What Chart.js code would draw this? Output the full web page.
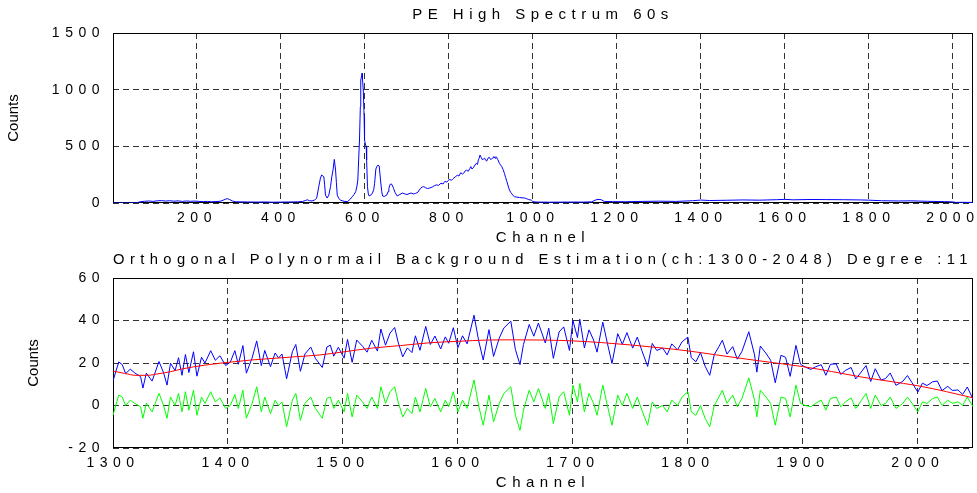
<!DOCTYPE html>
<html>
<head>
<meta charset="utf-8">
<title>PE High Spectrum 60s</title>
<script src="https://cdn.jsdelivr.net/npm/chart.js@4.4.1/dist/chart.umd.min.js"></script>
<style>
  html, body { margin: 0; padding: 0; background: #fff; }
  #wrap { position: relative; width: 977px; height: 493px; }
  canvas { position: absolute; left: 0; }
  #specChart { top: 0; }
  #bgChart { top: 245px; }
</style>
</head>
<body>
<div id="wrap">
  <canvas id="specChart" width="977" height="245"></canvas>
  <canvas id="bgChart" width="977" height="248"></canvas>
</div>
<script>
/* global Chart */

// ---- top panel : whole spectrum ----
const SPEC_CH = [
    0, 55, 60, 66, 75, 85, 95, 105, 115, 125,
    135, 145, 155, 165, 175, 185, 195, 205, 215, 225,
    235, 245, 255, 262, 268, 273, 278, 284, 292, 305,
    320, 340, 360, 380, 400, 420, 440, 452, 458, 463,
    468, 474, 480, 485, 490, 494, 497, 500, 502, 504,
    506, 510, 514, 518, 521, 524, 527, 530, 532, 534,
    538, 542, 550, 558, 564, 570, 574, 578, 581, 583,
    585, 587, 589, 590, 592, 593, 594, 596, 598, 599,
    601, 603, 604, 606, 608, 610, 614, 618, 621, 623,
    626, 628, 631, 634, 637, 640, 642, 646, 652, 655,
    657, 660, 663, 666, 668, 672, 677, 683, 689, 695,
    700, 705, 710, 715, 720, 726, 732, 736, 740, 744,
    749, 754, 760, 765, 770, 775, 781, 786, 790, 795,
    801, 806, 810, 815, 820, 824, 828, 832, 835, 839,
    842, 846, 850, 852, 855, 858, 862, 865, 868, 870,
    872, 874, 877, 880, 883, 885, 888, 890, 893, 896,
    899, 902, 905, 907, 910, 912, 914, 916, 918, 920,
    923, 926, 929, 932, 935, 938, 941, 944, 947, 950,
    953, 956, 962, 968, 974, 980, 985, 990, 996, 1000,
    1005, 1010, 1040, 1080, 1120, 1140, 1148, 1155, 1162, 1170,
    1190, 1220, 1260, 1300, 1340, 1380, 1400, 1420, 1460, 1500,
    1540, 1580, 1600, 1620, 1660, 1700, 1740, 1780, 1800, 1830,
    1870, 1900, 1940, 1980, 2000, 2006, 2020, 2048
];
const SPEC_COUNTS = [
    0, 0, 6, 12, 15, 18, 14, 19, 21, 17,
    20, 16, 19, 14, 18, 15, 17, 14, 12, 14,
    11, 13, 15, 24, 34, 38, 30, 18, 11, 10,
    9, 8, 9, 7, 8, 9, 10, 14, 22, 28,
    20, 18, 26, 42, 144, 220, 247, 238, 232, 160,
    70, 44, 70, 144, 230, 291, 385, 291, 180, 70,
    38, 25, 15, 12, 30, 56, 75, 100, 150, 203,
    380, 556, 850, 1085, 1120, 1144, 1100, 997, 760, 556,
    520, 497, 380, 144, 80, 62, 70, 88, 120, 174,
    300, 320, 335, 326, 203, 100, 62, 58, 70, 100,
    129, 165, 168, 150, 129, 90, 62, 75, 88, 80,
    75, 82, 88, 80, 84, 95, 129, 140, 145, 135,
    128, 132, 140, 152, 160, 155, 174, 168, 190, 185,
    209, 200, 215, 230, 245, 238, 268, 255, 262, 285,
    290, 280, 305, 321, 300, 310, 335, 350, 340, 380,
    395, 423, 400, 380, 392, 395, 375, 370, 395, 403,
    385, 390, 400, 410, 395, 409, 400, 385, 370, 350,
    335, 320, 295, 262, 225, 190, 150, 115, 95, 80,
    65, 56, 52, 48, 46, 44, 38, 30, 26, 12,
    9, 8, 7, 8, 8, 10, 25, 32, 30, 14,
    12, 11, 14, 16, 14, 20, 26, 22, 24, 27,
    25, 29, 32, 28, 31, 30, 29, 27, 25, 20,
    18, 19, 15, 12, 10, 5, 6, 5
];
const SPEC_X_TICKS = [200, 400, 600, 800, 1000, 1200, 1400, 1600, 1800, 2000];
const SPEC_Y_TICKS = [0, 500, 1000, 1500];

// ---- bottom panel : ch 1300-2048, counts / residual / fitted background ----
const BG_CH = [
    1300, 1305, 1308, 1311, 1315, 1319, 1324, 1326, 1329, 1334,
    1340, 1344, 1347, 1350, 1354, 1357, 1360, 1363, 1366, 1370,
    1373, 1377, 1380, 1385, 1389, 1393, 1398, 1402, 1406, 1409,
    1413, 1416, 1421, 1425, 1429, 1432, 1437, 1441, 1444, 1447,
    1451, 1456, 1459, 1463, 1467, 1472, 1476, 1482, 1486, 1489,
    1492, 1496, 1501, 1504, 1508, 1512, 1517, 1521, 1525, 1530,
    1533, 1537, 1541, 1545, 1548, 1552, 1556, 1560, 1563, 1567,
    1572, 1576, 1580, 1585, 1589, 1592, 1596, 1600, 1604, 1608,
    1614, 1618, 1622, 1627, 1631, 1636, 1640, 1646, 1650, 1654,
    1657, 1662, 1666, 1670, 1676, 1679, 1683, 1688, 1692, 1697,
    1700, 1704, 1706, 1710, 1714, 1718, 1721, 1726, 1730, 1734,
    1739, 1743, 1747, 1752, 1756, 1760, 1765, 1769, 1773, 1778,
    1782, 1786, 1791, 1795, 1800, 1803, 1807, 1811, 1815, 1819,
    1823, 1827, 1830, 1834, 1839, 1843, 1847, 1853, 1858, 1860,
    1863, 1868, 1872, 1876, 1881, 1885, 1889, 1894, 1898, 1902,
    1907, 1911, 1916, 1920, 1924, 1929, 1933, 1937, 1942, 1946,
    1950, 1955, 1959, 1963, 1968, 1972, 1976, 1981, 1987, 1991,
    1995, 2000, 2004, 2008, 2013, 2017, 2021, 2026, 2030, 2035,
    2039, 2043, 2048
];
const BG_COUNTS = [
    11.6, 20.5, 19.3, 15, 17.1, 15.3, 13.6, 8.2, 15.2, 11.5,
    20.7, 15.4, 9.6, 19.9, 16.4, 22.5, 14.2, 24, 15.5, 25.3,
    13.8, 22.7, 20, 25.8, 21.3, 23.4, 18.8, 20.4, 25.8, 19.4,
    28.2, 15.2, 22.4, 30.4, 18.8, 25.9, 18.3, 24.7, 22.4, 24.2,
    12.6, 25.3, 28.7, 16.1, 24.3, 27.5, 22.2, 17.9, 27.5, 28.4,
    23.2, 27.4, 22.3, 31.1, 20.3, 30.8, 27.9, 25.1, 30.7, 25.6,
    36, 28.4, 34.1, 36.7, 29.8, 22.9, 27.1, 24.9, 32.8, 26,
    37.2, 28.7, 32.7, 26.6, 32.3, 29.3, 36.6, 27.2, 32.8, 29,
    42.5, 30.6, 21.4, 35.7, 23.1, 31.8, 36.5, 39.7, 26.3, 19.2,
    28.7, 38.1, 32.6, 38.8, 29.4, 36.4, 22.2, 34.6, 37, 25.9,
    40, 32, 40.6, 27.1, 35.6, 30.8, 25.1, 39.2, 29.3, 19.8,
    33.8, 28.8, 34.3, 27, 32.2, 25.8, 18.4, 29.2, 25.9, 27.1,
    23.8, 29, 26.2, 30, 32.2, 22.5, 20.6, 24.9, 18.5, 14.2,
    24, 27.7, 30.7, 24.2, 27.7, 21.8, 25.4, 34.7, 23.8, 15.7,
    28, 24.5, 21.3, 10.7, 23.6, 22.7, 13.7, 28.3, 19.4, 18.1,
    17, 18.2, 19.2, 14.2, 19.4, 19.6, 14.6, 16.5, 17.9, 12.5,
    15.2, 18.8, 11.3, 17.3, 12, 12.7, 15.3, 9.5, 11.4, 14.1,
    10.7, 6.3, 10.5, 9.4, 11.2, 11.5, 7, 9, 7.1, 7.3,
    5.2, 8.7, 3
];
const BG_RESIDUAL = [
    -4.6, 4.9, 4, 0, 2.5, 1, -0.6, -6, 1, -3,
    5.7, 0, -6, 4, 0, 5.7, -3, 6.5, -2.2, 7.2,
    -4.6, 4, 1, 6.5, 1.7, 3.6, -1.4, 0, 5.2, -1.4,
    7.2, -6, 1, 8.8, -3, 4, -3.8, 2.5, 0, 1.7,
    -10, 2.5, 5.7, -7, 1, 4, -1.4, -6, 3.3, 4,
    -1.4, 2.5, -3, 5.7, -5.4, 4.9, 1.7, -1.4, 4, -1.4,
    8.8, 1, 6.5, 8.8, 1.7, -5.4, -1.4, -3.8, 4, -3,
    8, -0.6, 3.3, -3, 2.5, -0.6, 6.5, -3, 2.5, -1.4,
    12, 0, -9.3, 4.9, -7.7, 1, 5.7, 8.8, -4.6, -11.7,
    -2.2, 7.2, 1.7, 8, -1.4, 5.7, -8.5, 4, 6.5, -4.6,
    9.6, 1.7, 10.4, -3, 5.7, 1, -4.6, 9.6, 0, -9.3,
    4.9, 0, 5.7, -1.4, 4, -2.2, -9.3, 1.7, -1.4, 0,
    -3, 2.5, 0, 4, 6.5, -3, -4.6, 0, -6, -10,
    0, 4, 7.2, 1, 4.9, -0.6, 3.3, 13, 2.5, -5.4,
    7.2, 4, 1, -9.3, 4, 3.3, -5.4, 9.6, 1, 0,
    -0.6, 1, 2.5, -2.2, 3.3, 4, -0.6, 1.7, 3.6, -1.4,
    1.7, 5.7, -1.4, 4.9, 0, 1, 4, -1.4, 1, 4,
    1, -3, 1.7, 1, 3.3, 4, 0, 2.5, 1, 1.7,
    0, 4, -0.6
];
// polynomial background (degree 11)
const FIT_CH = [1300, 1310, 1320, 1330, 1340, 1350, 1360, 1380, 1400, 1420, 1440, 1460, 1480, 1500, 1525, 1550, 1575, 1600,
    1625, 1650, 1675, 1700, 1725, 1750, 1775, 1800, 1825, 1850, 1875, 1900, 1925, 1950, 1975, 2000, 2025, 2048];
const FIT_COUNTS = [16.2, 15.1, 14.2, 14.2, 15, 15.9, 17.2, 19, 20.3, 21.4, 22.2, 23, 23.8, 25.2, 27, 28.2, 29.5, 30.2,
    30.8, 30.9, 30.8, 30.4, 29.6, 28.5, 27.2, 25.7, 23.8, 21.9, 20.1, 18.3, 16, 13.5, 11.4, 9.3, 6.5, 3.6];
const BG_X_TICKS = [1300, 1400, 1500, 1600, 1700, 1800, 1900, 2000];
const BG_Y_TICKS = [-20, 0, 20, 40, 60];

const FONT = "'Liberation Sans', Arial, Helvetica, sans-serif";
const SPACING = '5.5px';   // the original uses wide letter spacing on all labels

const toPoints = (xs, ys) => xs.map((x, i) => ({ x, y: ys[i] }));

// spaced-out text + solid frame round the plot area
const matlabLook = {
    id: 'matlabLook',
    afterLayout(chart) {
        const y = chart.scales.y;
        if (y._plainTitle) return;
        const orig = y.drawTitle;
        // the "Counts" label is not spaced
        y.drawTitle = function () {
            const c = this.ctx;
            const ls = c.letterSpacing;
            c.letterSpacing = '0px';
            orig.call(this);
            c.letterSpacing = ls;
        };
        y._plainTitle = true;
    },
    beforeDraw(chart) {
        chart.ctx.letterSpacing = SPACING;
    },
    beforeDatasetsDraw(chart) {
        const { ctx, chartArea: a } = chart;
        ctx.save();
        ctx.strokeStyle = '#000';
        ctx.lineWidth = 1;
        ctx.setLineDash([]);
        ctx.strokeRect(Math.round(a.left) + 0.5, Math.round(a.top) + 0.5,
            Math.round(a.right - a.left) - 1, Math.round(a.bottom - a.top) - 1);
        ctx.restore();
    }
};

function panel(canvas, o) {
    const tickFont = { family: FONT, size: 14 };
    const grid = { color: '#333', lineWidth: 1, drawTicks: false };
    const border = { display: false, dash: [6, 4] };
    return new Chart(canvas, {
        type: 'line',
        data: { datasets: o.datasets },
        options: {
            responsive: false,
            animation: false,
            devicePixelRatio: 1,
            layout: { padding: { left: 0, right: 4, top: 0, bottom: 0 } },
            elements: { point: { radius: 0 }, line: { borderWidth: 1, tension: 0 } },
            plugins: {
                legend: { display: false },
                tooltip: { enabled: false },
                title: {
                    display: true,
                    text: o.title,
                    fullSize: false,
                    color: '#000',
                    font: { family: FONT, size: 15, weight: 'normal', lineHeight: 1.2 },
                    padding: { top: 6, bottom: 9 }
                }
            },
            scales: {
                x: {
                    type: 'linear',
                    min: o.xMin,
                    max: o.xMax,
                    afterBuildTicks: s => { s.ticks = o.xTicks.map(value => ({ value })); },
                    afterFit: s => { s.height = o.xAxisHeight; },
                    grid,
                    border,
                    ticks: { autoSkip: false, maxRotation: 0, padding: 7, color: '#000', font: tickFont, callback: v => String(v) },
                    title: {
                        display: true, text: 'Channel', color: '#000',
                        font: { family: FONT, size: 15, lineHeight: 1 },
                        padding: { top: 0, bottom: o.xTitlePad }
                    }
                },
                y: {
                    min: o.yMin,
                    max: o.yMax,
                    afterBuildTicks: s => { s.ticks = o.yTicks.map(value => ({ value })); },
                    afterFit: s => { s.width = 113; },
                    grid,
                    border,
                    ticks: { padding: 8, color: '#000', font: tickFont, callback: v => String(v) },
                    title: {
                        display: true, text: 'Counts', color: '#000',
                        font: { family: FONT, size: 15, lineHeight: 1 },
                        padding: { top: o.yTitlePad, bottom: 0 }
                    }
                }
            }
        },
        plugins: [matlabLook]
    });
}

panel(document.getElementById('specChart'), {
    title: 'PE High Spectrum 60s',
    xMin: 0, xMax: 2048, xTicks: SPEC_X_TICKS,
    yMin: 0, yMax: 1500, yTicks: SPEC_Y_TICKS,
    xAxisHeight: 42, xTitlePad: 0, yTitlePad: 6.5,
    datasets: [
        { data: toPoints(SPEC_CH, SPEC_COUNTS), borderColor: '#0000ff' }
    ]
});

panel(document.getElementById('bgChart'), {
    title: 'Orthogonal Polynormail Background Estimation(ch:1300-2048) Degree :11',
    xMin: 1300, xMax: 2048, xTicks: BG_X_TICKS,
    yMin: -20, yMax: 60, yTicks: BG_Y_TICKS,
    xAxisHeight: 45, xTitlePad: 2.5, yTitlePad: 26.5,
    datasets: [
        { data: toPoints(FIT_CH, FIT_COUNTS), borderColor: '#ff0000', cubicInterpolationMode: 'monotone' },
        { data: toPoints(BG_CH, BG_COUNTS), borderColor: '#0000ff' },
        { data: toPoints(BG_CH, BG_RESIDUAL), borderColor: '#00ff00' }
    ]
});
</script>
</body>
</html>
